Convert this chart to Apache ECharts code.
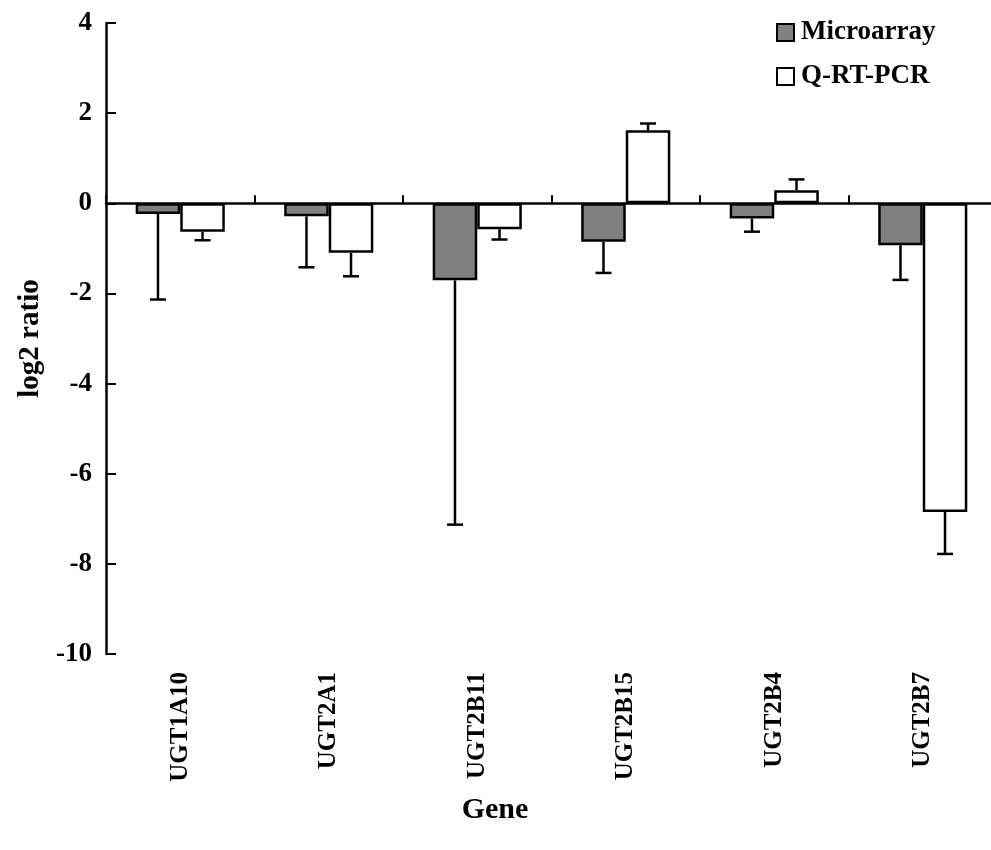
<!DOCTYPE html>
<html>
<head>
<meta charset="utf-8">
<script src="https://cdn.jsdelivr.net/npm/echarts@6/dist/echarts.min.js"></script>
<style>html,body{margin:0;padding:0;background:#fff}#c{width:991px;height:850px}</style>
</head>
<body>
<div id="c"></div>
<script>
const categories = ['UGT1A10', 'UGT2A1', 'UGT2B11', 'UGT2B15', 'UGT2B4', 'UGT2B7'];
const microValues = [-0.235, -0.29, -1.71, -0.855, -0.34, -0.93];
const microErrors = [1.9, 1.13, 5.42, 0.69, 0.29, 0.77];
const qpcrValues = [-0.63, -1.1, -0.574, 1.62, 0.29, -6.85];
const qpcrErrors = [0.19, 0.52, 0.23, 0.15, 0.24, 0.93];
const yTicks = { min: -10, max: 4, interval: 2 };

const FONT = '"Liberation Serif", "Times New Roman", serif';
const BAR_FRAC = 0.30;

function errData(vals, errs) {
  return vals.map((v, i) => [i, v, errs[i]]);
}
function makeErr(sign) {
  return function (params, api) {
    const i = api.value(0), v = api.value(1), e = api.value(2);
    const end = v >= 0 ? v + e : v - e;
    const band = api.size([1, 0])[0];
    const off = sign * band * BAR_FRAC / 2;
    const p0 = api.coord([i, v]);
    const p1 = api.coord([i, end]);
    const x = p0[0] + off;
    const half = 8;
    const st = { stroke: '#000', lineWidth: 2.5 };
    return {
      type: 'group',
      children: [
        { type: 'line', shape: { x1: x, y1: p0[1], x2: x, y2: p1[1] }, style: st },
        { type: 'line', shape: { x1: x - half, y1: p1[1], x2: x + half, y2: p1[1] }, style: st }
      ]
    };
  };
}

const chart = echarts.init(document.getElementById('c'), null, { renderer: 'canvas' });
chart.setOption({
  animation: false,
  backgroundColor: '#fff',
  textStyle: { fontFamily: FONT },
  title: {
    text: 'Gene', left: 490, top: 790, textAlign: 'center',
    textStyle: { fontFamily: FONT, fontWeight: 'bold', fontSize: 30, color: '#000' }
  },
  grid: { left: 106, top: 23, width: 891, bottom: 196, containLabel: false, outerBoundsMode: 'none' },
  legend: {
    orient: 'vertical',
    left: 776, top: 19, padding: 0,
    itemWidth: 17, itemHeight: 17, itemGap: 17,
    icon: 'rect',
    textStyle: { fontFamily: FONT, fontWeight: 'bold', fontSize: 27, color: '#000', padding: [0, 0, 0, 2] },
    data: ['Microarray', 'Q-RT-PCR']
  },
  xAxis: [
    {
      type: 'category', data: categories,
      axisLine: { onZero: true, lineStyle: { color: '#000', width: 2.5 } },
      axisTick: { show: true, inside: true, length: 8, lineStyle: { color: '#000', width: 2 } },
      axisLabel: { show: false },
      splitLine: { show: false }
    },
    {
      type: 'category', data: categories, position: 'bottom',
      axisLine: { show: false, onZero: false },
      axisTick: { show: false },
      axisLabel: { rotate: 90, margin: 18, fontFamily: FONT, fontWeight: 'bold', fontSize: 25, color: '#000' }
    }
  ],
  yAxis: {
    type: 'value', min: yTicks.min, max: yTicks.max, interval: yTicks.interval,
    axisLine: { show: true, lineStyle: { color: '#000', width: 2.5 } },
    axisTick: { show: true, inside: true, length: 10, lineStyle: { color: '#000', width: 2 } },
    axisLabel: { margin: 14, fontFamily: FONT, fontWeight: 'bold', fontSize: 27, color: '#000' },
    splitLine: { show: false },
    name: 'log2 ratio', nameLocation: 'middle', nameGap: 60, nameRotate: 90,
    nameTextStyle: { fontFamily: FONT, fontWeight: 'bold', fontSize: 29, color: '#000' }
  },
  series: [
    {
      name: 'Microarray', type: 'bar', data: microValues,
      barWidth: (BAR_FRAC * 100) + '%', barGap: '0%',
      itemStyle: { color: '#808080', borderColor: '#000', borderWidth: 2.5 }
    },
    {
      name: 'Q-RT-PCR', type: 'bar', data: qpcrValues,
      barWidth: (BAR_FRAC * 100) + '%', barGap: '0%',
      itemStyle: { color: '#fff', borderColor: '#000', borderWidth: 2.5 }
    },
    {
      type: 'custom', renderItem: makeErr(-1), data: errData(microValues, microErrors),
      encode: { x: 0, y: 1 }, z: 3, silent: true
    },
    {
      type: 'custom', renderItem: makeErr(1), data: errData(qpcrValues, qpcrErrors),
      encode: { x: 0, y: 1 }, z: 3, silent: true
    }
  ]
});
</script>
</body>
</html>
